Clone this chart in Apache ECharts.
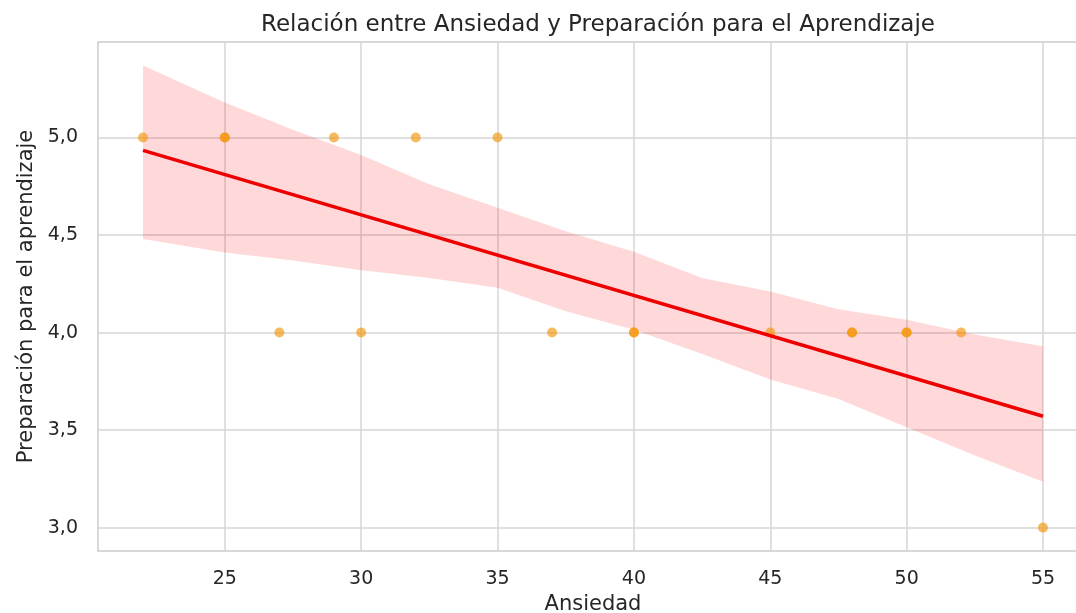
<!DOCTYPE html>
<html><head><meta charset="utf-8">
<script src="https://cdn.jsdelivr.net/npm/echarts@6/dist/echarts.min.js"></script>
<style>html,body{margin:0;padding:0;background:#fff}#c{width:1076px;height:613px}</style>
</head><body><div id="c"></div>
<script>
const ansiedad = [22,25,25,29,32,35,27,30,37,40,40,45,48,48,50,50,52,55];
const preparacion = [5,5,5,5,5,5,4,4,4,4,4,4,4,4,4,4,4,3];
const fitX = [22,55];
const fitY = [4.934,3.571];
const bandX = [22,25,27.5,30,32.5,35,37.5,40,42.5,45,47.5,50,52.5,55];
const bandUpper = [5.37,5.18,5.04,4.91,4.76,4.64,4.52,4.415,4.28,4.21,4.12,4.066,3.99,3.93];
const bandLower = [4.48,4.41,4.37,4.32,4.28,4.23,4.11,4.015,3.89,3.76,3.66,3.515,3.37,3.235];
const xTicks = [25,30,35,40,45,50,55];
const yTicks = [3.0,3.5,4.0,4.5,5.0];

const FONT = 'DejaVu Sans';
const TXT = '#262626';
const chart = echarts.init(document.getElementById('c'), null, {renderer:'canvas'});
const bandData = bandX.map((x,i)=>[x,bandUpper[i],bandLower[i]]);
const option = {
  animation:false,
  backgroundColor:'#fff',
  title:{text:'Relación entre Ansiedad y Preparación para el Aprendizaje', left:593, textAlign:'center', top:9,
    textStyle:{fontFamily:FONT,fontSize:23,fontWeight:'normal',color:TXT}},
  grid:{left:98, top:42, width:990, bottom:62, show:true, borderColor:'#cccccc', borderWidth:1.5,
    backgroundColor:'#fff', containLabel:false, outerBoundsMode:'none'},
  xAxis:{type:'value', min:20.35, max:56.65,
    name:'Ansiedad', nameLocation:'middle', nameGap:41,
    nameTextStyle:{fontFamily:FONT,fontSize:21,color:TXT},
    axisLine:{show:false}, axisTick:{show:false, customValues:xTicks},
    axisLabel:{customValues:xTicks, fontFamily:FONT,fontSize:19,color:TXT,margin:19, formatter:v=>String(v)},
    splitLine:{show:true,lineStyle:{color:'#d6d6d6',width:1.5}}},
  yAxis:{type:'value', min:2.88, max:5.49,
    name:'Preparación para el aprendizaje', nameLocation:'middle', nameGap:59,
    nameTextStyle:{fontFamily:FONT,fontSize:21,color:TXT},
    axisLine:{show:false}, axisTick:{show:false, customValues:yTicks},
    axisLabel:{customValues:yTicks, fontFamily:FONT,fontSize:19,color:TXT,margin:20, formatter:v=>v.toFixed(1).replace('.',',')},
    splitLine:{show:true,lineStyle:{color:'#d6d6d6',width:1.5}}},
  series:[
    {type:'custom', z:1, data:bandData, clip:true,
     renderItem:function(params, api){
       if(params.dataIndex!==0) return null;
       const pts=[];
       for(let i=0;i<bandX.length;i++) pts.push(api.coord([bandX[i],bandUpper[i]]));
       for(let i=bandX.length-1;i>=0;i--) pts.push(api.coord([bandX[i],bandLower[i]]));
       return {type:'polygon', shape:{points:pts}, style:{fill:'rgba(255,0,0,0.15)'}};
     }},
    {type:'scatter', z:2, symbolSize:10, data:ansiedad.map((x,i)=>[x,preparacion[i]]),
     itemStyle:{color:'rgba(245,150,10,0.82)'}},
    {type:'line', z:3, data:fitX.map((x,i)=>[x,fitY[i]]), showSymbol:false, symbol:'none',
     lineStyle:{color:'#ee0000',width:3.5}}
  ]
};
chart.setOption(option);
</script></body></html>
